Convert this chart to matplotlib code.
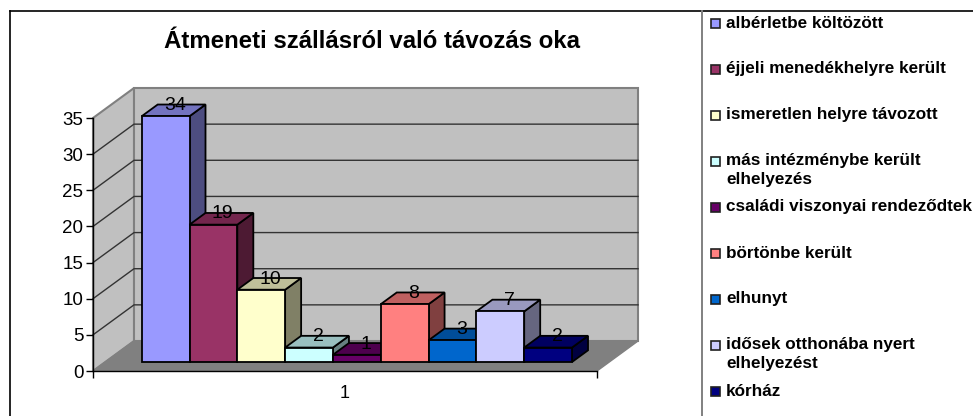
import matplotlib
matplotlib.use("Agg")
import matplotlib.pyplot as plt
from matplotlib.lines import Line2D
from matplotlib.patches import Polygon, Rectangle

plt.rcParams['font.family'] = ['Liberation Sans', 'DejaVu Sans']

W, H = 973, 416

title = "Átmeneti szállásról való távozás oka"
labels = ["albérletbe költözött", "éjjeli menedékhelyre került", "ismeretlen helyre távozott",
          "más intézménybe került\nelhelyezés", "családi viszonyai rendeződtek", "börtönbe került",
          "elhunyt", "idősek otthonába nyert\nelhelyezést", "kórház"]
values = [34, 19, 10, 2, 1, 8, 3, 7, 2]
colors = ["#9999FF", "#993366", "#FFFFCC", "#CCFFFF", "#660066", "#FF8080", "#0066CC", "#CCCCFF", "#000080"]
yticks = [0, 5, 10, 15, 20, 25, 30, 35]
category = "1"

# depth of the fake 3d box, in data units
DX = 0.858
DY = 4.15
X0, X1 = -0.761, 9.78
Y1 = 35


def proj(x, y, d):
    return (x + d * DX, y + d * DY)


def shade(col, f):
    rgb = matplotlib.colors.to_rgb(col)
    return tuple(c * f for c in rgb)


fig = plt.figure(figsize=(W / 100, H / 100), dpi=100)
ax = fig.add_axes([93 / W, (H - 371) / H, 504 / W, 253 / H])
ax.set_xlim(X0, X1)
ax.set_ylim(0, Y1)
ax.patch.set_visible(False)
for s in ["top", "right"]:
    ax.spines[s].set_visible(False)
ax.spines["left"].set_linewidth(1)
ax.spines["bottom"].set_linewidth(1)


def poly(pts, fc, ec="black", lw=1.0, z=2):
    ax.add_patch(Polygon(pts, closed=True, facecolor=fc, edgecolor=ec, linewidth=lw,
                         clip_on=False, zorder=z, joinstyle="miter"))


# walls and floor
poly([proj(X0, 0, 0), proj(X0, 0, 1), proj(X0, Y1, 1), proj(X0, Y1, 0)], "#C0C0C0", "#808080", 1.5, 1)
poly([proj(X0, 0, 1), proj(X1, 0, 1), proj(X1, Y1, 1), proj(X0, Y1, 1)], "#C0C0C0", "#808080", 1.5, 1)
poly([proj(X0, 0, 0), proj(X1, 0, 0), proj(X1, 0, 1), proj(X0, 0, 1)], "#808080", "#808080", 1, 1)

for t in yticks[1:-1]:
    ax.plot(*zip(proj(X0, t, 0), proj(X0, t, 1), proj(X1, t, 1)), color="#333333", lw=1.0,
            clip_on=False, zorder=1.5)

# bars, left to right so each front hides the side of the one before
D0, D1 = 0.3, 0.69
for i, (v, c) in enumerate(zip(values, colors)):
    xa, xb = i, i + 1
    poly([proj(xb, 0, D0), proj(xb, 0, D1), proj(xb, v, D1), proj(xb, v, D0)], shade(c, 0.5), lw=1.3, z=3 + i)
    poly([proj(xa, v, D0), proj(xb, v, D0), proj(xb, v, D1), proj(xa, v, D1)], shade(c, 0.75), lw=1.3, z=3 + i)
    poly([proj(xa, 0, D0), proj(xb, 0, D0), proj(xb, v, D0), proj(xa, v, D0)], c, lw=1.3, z=3 + i)

for i, v in enumerate(values):
    ax.annotate(str(v), proj(i + 0.5, v, (D0 + D1) / 2), xytext=(1, 3.5), textcoords="offset points",
                ha="center", va="center", fontsize=14, color="black", zorder=20, annotation_clip=False)

ax.set_yticks(yticks)
ax.tick_params(axis="y", labelsize=13.5, length=5, width=1, pad=2)
ax.set_xticks([(X0 + X1) / 2], [category])
ax.tick_params(axis="x", which="major", labelsize=13, length=0, pad=10)
ax.set_xticks([X0, X1], minor=True)
ax.tick_params(axis="x", which="minor", length=5, width=1)

fig.text(372 / W, 1 - 41 / H, title, ha="center", va="center", fontsize=17.3, fontweight="bold")

# legend
for i, (lab, c) in enumerate(zip(labels, colors)):
    yc = 23 + 46 * i
    fig.add_artist(Rectangle((710.5 / W, 1 - (yc + 5) / H), 9.5 / W, 9.5 / H, transform=fig.transFigure,
                             facecolor=c, edgecolor="#202020", linewidth=1.2))
    fig.text(726 / W, 1 - (yc - 7.5) / H, lab, ha="left", va="top", fontsize=12.3, fontweight="bold",
             linespacing=1.3)

# outer frame of the chart and legend
fig.add_artist(Line2D([10 / W, 10 / W], [0, 1 - 11 / H], color="black", lw=1.2))
fig.add_artist(Line2D([10 / W, 1], [1 - 11 / H, 1 - 11 / H], color="black", lw=1.2))
fig.add_artist(Line2D([702 / W, 702 / W], [0, 1 - 11 / H], color="#808080", lw=1.4))

fig.savefig("out.png", dpi=100)
